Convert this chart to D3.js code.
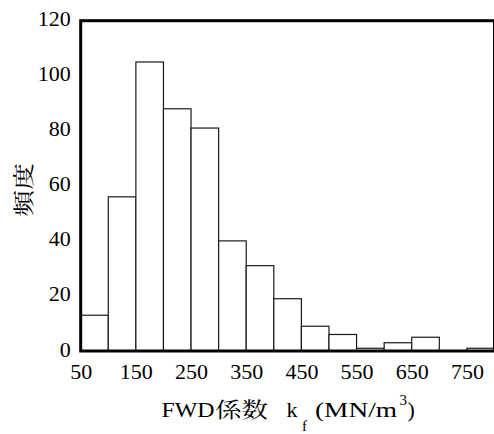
<!DOCTYPE html>
<html>
<head>
<meta charset="utf-8">
<script src="https://cdn.jsdelivr.net/npm/d3@7"></script>
<style>
  html, body { margin: 0; padding: 0; background: #fff; }
  svg { display: block; }
  svg text { font-family: "Liberation Serif", "Times New Roman", Times, serif; }
  svg text.cjk { font-family: "Noto Serif CJK JP", "Noto Sans CJK JP", serif; }
  .tick text { font-size: 22px; fill: #000; }
</style>
</head>
<body>
<svg id="chart" width="494" height="434"></svg>
<script>
// Histogram of FWD subgrade coefficients, bins of width 50
const binStarts = [50, 100, 150, 200, 250, 300, 350, 400, 450, 500, 550, 600, 650, 700, 750];
const binWidth = 50;
const counts = [13, 56, 105, 88, 81, 40, 31, 19, 9, 6, 1, 3, 5, 0, 1];
const xTickValues = [50, 150, 250, 350, 450, 550, 650, 750];
const yTickValues = [0, 20, 40, 60, 80, 100, 120];

const svg = d3.select("#chart");

const x = d3.scaleLinear().domain([50, 800]).range([80.7, 494.5]);
const y = d3.scaleLinear().domain([0, 120]).range([351, 20.7]);

// bars
svg.append("g")
  .selectAll("rect")
  .data(binStarts.map((s, i) => ({ s, c: counts[i] })).filter(d => d.c > 0))
  .join("rect")
  .attr("x", d => x(d.s))
  .attr("y", d => y(d.c))
  .attr("width", d => x(d.s + binWidth) - x(d.s))
  .attr("height", d => y(0) - y(d.c))
  .attr("fill", "#fff")
  .attr("stroke", "#1a1a1a")
  .attr("stroke-width", 1.2);

// plot frame
svg.append("rect")
  .attr("x", x(50))
  .attr("y", y(120))
  .attr("width", x(800) - x(50))
  .attr("height", y(0) - y(120))
  .attr("fill", "none")
  .attr("stroke", "#000")
  .attr("stroke-width", 3);

// x axis labels
const xAxis = svg.append("g")
  .attr("transform", `translate(0,${y(0)})`)
  .call(d3.axisBottom(x).tickValues(xTickValues).tickSize(0).tickFormat(d3.format("d")));
xAxis.attr("font-family", null);
xAxis.select(".domain").remove();
xAxis.selectAll(".tick text").attr("y", 28).attr("dy", null);

// y axis labels
const yAxis = svg.append("g")
  .attr("transform", `translate(${x(50)},0)`)
  .call(d3.axisLeft(y).tickValues(yTickValues).tickSize(0).tickFormat(d3.format("d")));
yAxis.attr("font-family", null);
yAxis.select(".domain").remove();
yAxis.selectAll(".tick text").attr("x", -10).attr("dy", 5);

// axis titles
const xt = svg.append("g").attr("fill", "#000");
xt.append("text").attr("x", 161.5).attr("y", 417).attr("font-size", 22)
  .attr("textLength", 53).attr("lengthAdjust", "spacingAndGlyphs").text("FWD");
xt.append("text").attr("class", "cjk").attr("x", 215).attr("y", 417).attr("font-size", 21)
  .attr("textLength", 53).attr("lengthAdjust", "spacingAndGlyphs").text("係数");
xt.append("text").attr("x", 286.5).attr("y", 417).attr("font-size", 22).text("k");
xt.append("text").attr("x", 302).attr("y", 431).attr("font-size", 15).text("f");
xt.append("text").attr("x", 315).attr("y", 417).attr("font-size", 22)
  .attr("textLength", 82).attr("lengthAdjust", "spacingAndGlyphs").text("(MN/m");
xt.append("text").attr("x", 399.5).attr("y", 405).attr("font-size", 15).text("3");
xt.append("text").attr("x", 407.5).attr("y", 417).attr("font-size", 22).text(")");

svg.append("text")
  .attr("class", "cjk")
  .attr("transform", "translate(31,190) rotate(-90)")
  .attr("text-anchor", "middle")
  .attr("font-size", 21)
  .attr("textLength", 54)
  .attr("lengthAdjust", "spacingAndGlyphs")
  .text("頻度");
</script>
</body>
</html>
